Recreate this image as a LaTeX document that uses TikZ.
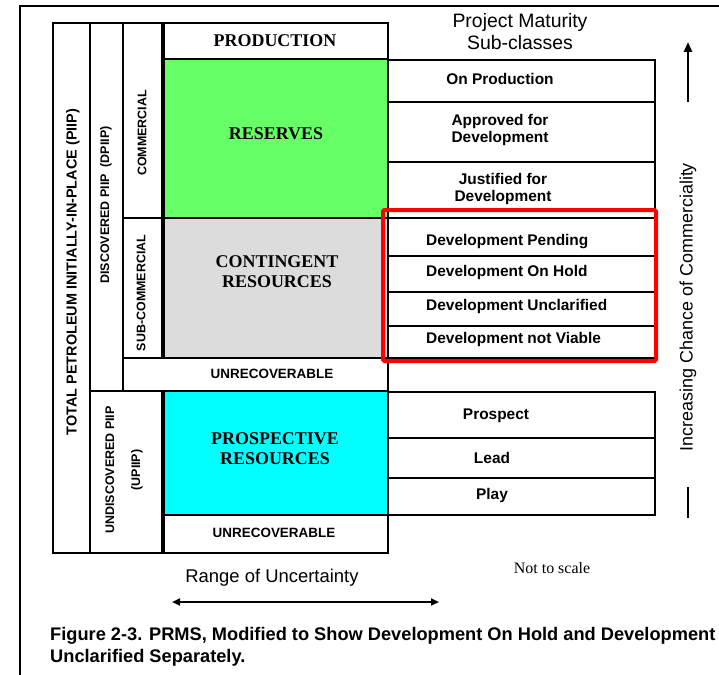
\documentclass[tikz,border=0pt]{standalone}
\usepackage{fontspec}
\setmainfont{Liberation Serif}
\setsansfont{Liberation Sans}
\usetikzlibrary{arrows.meta}
\definecolor{resgreen}{HTML}{66FF66}
\definecolor{congrey}{HTML}{DCDCDC}
\definecolor{procyan}{HTML}{00FFFF}
\definecolor{markred}{HTML}{FF0000}
\tikzset{
    frame/.style={draw=black,line width=2.6bp},
    sep/.style={draw=black,line width=1.6bp},
    classlbl/.style={font=\bfseries\fontsize{18}{20}\selectfont,align=center,inner sep=0pt},
    sublbl/.style={font=\sffamily\bfseries\fontsize{15.5}{18}\selectfont,align=center,inner sep=0pt},
    devlbl/.style={font=\sffamily\bfseries\fontsize{15.5}{18}\selectfont,anchor=west,inner sep=0pt},
    vlbl/.style={rotate=90,font=\sffamily\bfseries\fontsize{12.5}{26}\selectfont,align=center,inner sep=0pt},
    unrec/.style={font=\sffamily\bfseries\fontsize{13.5}{15}\selectfont,inner sep=0pt},
    note/.style={font=\sffamily\fontsize{18.5}{22}\selectfont,align=center,inner sep=0pt}
}
\begin{document}
\begin{tikzpicture}[x=1bp,y=-1bp]
            \useasboundingbox (0,0) rectangle (719,675);
            \draw[line width=1.8bp] (20,675) -- (20,6) -- (719,6);

            \begin{scope}[frame]
                \draw (53,23) rectangle (90,553);
                \draw (90,23) rectangle (123,391);
                \draw (123,23) rectangle (163,218);
                \draw (123,218) rectangle (163,358);
                \draw (163,23) rectangle (388,59);
                \draw[fill=resgreen] (163,59) rectangle (388,218);
                \draw[fill=congrey] (163,218) rectangle (388,358);
                \draw (123,358) rectangle (388,391);
                \draw (90,391) rectangle (163,553);
                \draw[fill=procyan] (163,391) rectangle (388,515);
                \draw (163,515) rectangle (388,553);
                \draw[line width=3.5bp] (163,23) -- (163,358);
                \draw[line width=3.5bp] (163,391) -- (163,553);
                \draw (388,60) rectangle (655,358);
                \draw (388,392) rectangle (655,515);
            \end{scope}

            \begin{scope}[sep]
                \draw (388,102) -- (655,102);
                \draw (388,162) -- (655,162);
                \draw (388,218) -- (655,218);
                \draw (388,256) -- (655,256);
                \draw (388,292) -- (655,292);
                \draw (388,326) -- (655,326);
                \draw (388,438) -- (655,438);
                \draw (388,478) -- (655,478);
            \end{scope}

            \draw[markred,line width=4bp,rounded corners=1.5bp] (383,210) rectangle (656,361);

            \node[vlbl,font=\sffamily\bfseries\fontsize{14.5}{16}\selectfont] (piip) at (73,272) {TOTAL PETROLEUM INITIALLY-IN-PLACE (PIIP)};
            \node[vlbl] (dpiip) at (106,205) {DISCOVERED PIIP\ \ (DPIIP)};
            \node[vlbl] (comm) at (142,133) {COMMERCIAL};
            \node[vlbl] (subcomm) at (141,293) {SUB-COMMERCIAL};
            \node[vlbl] (upiip) at (124,470) {UNDISCOVERED PIIP\\(UPIIP)};

            \node[classlbl] (production) at (275,41) {PRODUCTION};
            \node[classlbl] (reserves) at (276,134) {RESERVES};
            \node[classlbl] (contingent) at (277,272) {CONTINGENT\\RESOURCES};
            \node[classlbl] (prospective) at (275,449) {PROSPECTIVE\\RESOURCES};
            \node[unrec] (unrecup) at (272,374) {UNRECOVERABLE};
            \node[unrec] (unreclow) at (274,533) {UNRECOVERABLE};

            \node[note,font=\sffamily\fontsize{19.5}{22}\selectfont] (maturity) at (520,32) {Project Maturity\\Sub-classes};
            \node[sublbl] (onprod) at (500,79) {On Production};
            \node[sublbl] (approved) at (500,130) {Approved for\\Development};
            \node[sublbl] (justified) at (503,189) {Justified for\\Development};
            \node[devlbl] (pending) at (426,242) {Development Pending};
            \node[devlbl] (onhold) at (426,273) {Development On Hold};
            \node[devlbl] (unclar) at (426,307) {Development Unclarified};
            \node[devlbl] (notviable) at (426,340) {Development not Viable};
            \node[sublbl] (prospect) at (496,416) {Prospect};
            \node[sublbl] (lead) at (492,458) {Lead};
            \node[sublbl] (play) at (492,496) {Play};

            \node[note,rotate=90,font=\sffamily\fontsize{18}{20}\selectfont] (commerciality) at (688,307) {Increasing Chance of Commerciality};
            \coordinate (cbase) at (688,102);
            \coordinate (ctop) at (688,42);
            \coordinate (bartop) at (688,487);
            \coordinate (barbot) at (688,518);
            \draw[line width=2.5bp,-{Triangle[length=10bp,width=8bp]}] (cbase) -- (ctop);
            \draw[line width=2.5bp] (bartop) -- (barbot);

            \node[note] (uncert) at (272,578) {Range of Uncertainty};
            \coordinate (uncl) at (172,602);
            \coordinate (uncr) at (439,602);
            \draw[line width=2.5bp,{Triangle[length=8bp,width=7bp]}-{Triangle[length=8bp,width=7bp]}] (uncl) -- (uncr);

            \node[font=\fontsize{16}{18}\selectfont,inner sep=0pt] (noscale) at (552,568) {Not to scale};
            \node[font=\sffamily\bfseries\fontsize{18.3}{22}\selectfont,align=left,anchor=north west,inner sep=0pt] (caption) at (50,627)
                {Figure 2-3. PRMS, Modified to Show Development On Hold and Development\\Unclarified Separately.};
            \end{tikzpicture}
\end{document}
